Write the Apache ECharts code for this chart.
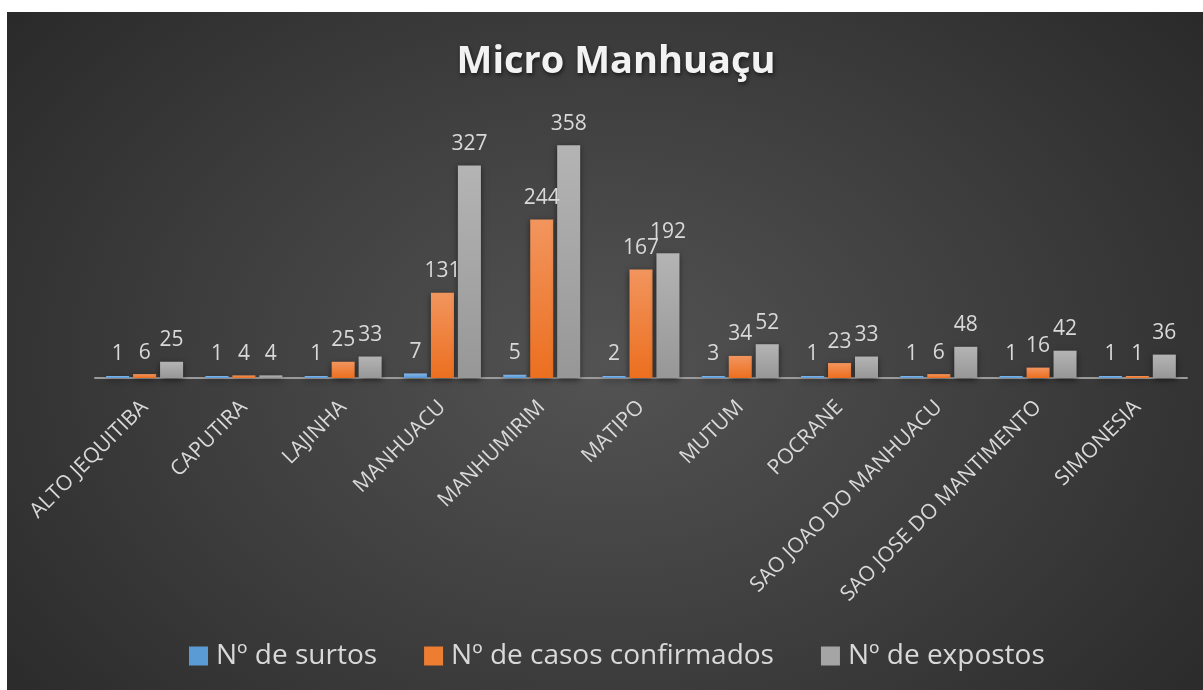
<!DOCTYPE html>
<html>
<head>
<meta charset="utf-8">
<script src="https://cdn.jsdelivr.net/npm/echarts@6/dist/echarts.min.js"></script>
<style>
  html, body { margin: 0; padding: 0; background: #ffffff; width: 1203px; height: 690px; overflow: hidden; }
  #chart {
    position: absolute; left: 7px; top: 12px; width: 1196px; height: 678px;
    background: radial-gradient(ellipse 70% 90% at 50% 52%, #535353 0%, #3d3d3d 50%, #262626 100%);
  }
</style>
</head>
<body>
<div id="chart"></div>
<script>
const chartTitle = 'Micro Manhuaçu';
const categories = ['ALTO JEQUITIBA', 'CAPUTIRA', 'LAJINHA', 'MANHUACU', 'MANHUMIRIM', 'MATIPO', 'MUTUM', 'POCRANE', 'SAO JOAO DO MANHUACU', 'SAO JOSE DO MANTIMENTO', 'SIMONESIA'];
const seriesNames = ['Nº de surtos', 'Nº de casos confirmados', 'Nº de expostos'];
const surtos = [1, 1, 1, 7, 5, 2, 3, 1, 1, 1, 1];
const casos = [6, 4, 25, 131, 244, 167, 34, 23, 6, 16, 1];
const expostos = [25, 4, 33, 327, 358, 192, 52, 33, 48, 42, 36];

const FONT = '"Open Sans", "DejaVu Sans", sans-serif';
function grad(top, bottom) {
  return new echarts.graphic.LinearGradient(0, 0, 0, 1, [
    { offset: 0, color: top }, { offset: 1, color: bottom }
  ]);
}
const colors = [
  grad('#85b9ea', '#5595d3'),
  grad('#f2955e', '#ec6f1f'),
  grad('#b4b4b4', '#979797')
];
const legendColors = ['#5b9bd5', '#ed7d31', '#a5a5a5'];

function makeSeries(name, data, idx) {
  return {
    name: name,
    type: 'bar',
    data: data,
    barGap: '17%',
    barCategoryGap: '22.5%',
    barMinHeight: 2,
    itemStyle: {
      color: colors[idx],
      shadowColor: 'rgba(0,0,0,0.55)',
      shadowBlur: 6,
      shadowOffsetY: 2
    },
    label: {
      show: true,
      position: 'top',
      distance: 11,
      color: '#d9d9d9',
      fontSize: 21,
      fontFamily: FONT
    }
  };
}

const chart = echarts.init(document.getElementById('chart'), null, { renderer: 'canvas' });
chart.setOption({
  animation: false,
  title: {
    text: chartTitle,
    left: 604,
    textAlign: 'center',
    top: 26,
    textStyle: {
      color: '#f2f2f2',
      fontFamily: FONT,
      fontWeight: 'bold',
      fontSize: 38,
      letterSpacing: 1.5,
      textShadowColor: 'rgba(0,0,0,0.6)',
      textShadowBlur: 4,
      textShadowOffsetX: 1,
      textShadowOffsetY: 2
    }
  },
  legend: {
    data: seriesNames.map((n, i) => ({ name: n, itemStyle: { color: legendColors[i] } })),
    left: 177,
    top: 625,
    icon: 'rect',
    itemWidth: 19,
    itemHeight: 19,
    itemGap: 47,
    textStyle: {
      color: '#d9d9d9',
      fontFamily: FONT,
      fontSize: 28,
      padding: [0, 0, 0, 3]
    }
  },
  grid: {
    left: 88,
    right: 16,
    top: 106,
    bottom: 312,
    containLabel: false
  },
  xAxis: {
    type: 'category',
    data: categories,
    axisLine: { show: true, lineStyle: { color: '#9a9a9a', width: 2 } },
    axisTick: { show: false },
    axisLabel: {
      rotate: 45,
      interval: 0,
      margin: 26,
      color: '#d9d9d9',
      fontFamily: FONT,
      fontSize: 21
    }
  },
  yAxis: {
    type: 'value',
    min: 0,
    max: 400,
    show: false,
    splitLine: { show: false }
  },
  series: [
    makeSeries(seriesNames[0], surtos, 0),
    makeSeries(seriesNames[1], casos, 1),
    makeSeries(seriesNames[2], expostos, 2)
  ]
});
</script>
</body>
</html>
